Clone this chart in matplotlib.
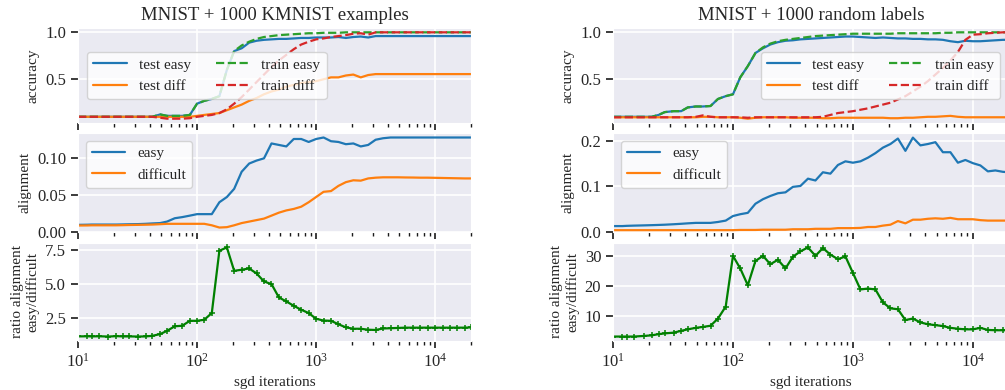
import matplotlib
matplotlib.use('Agg')
import matplotlib.pyplot as plt
import seaborn as sns

sns.set_style('darkgrid')
plt.rcParams['font.family'] = ['Liberation Serif', 'DejaVu Serif']
plt.rcParams['mathtext.fontset'] = 'stix'

# sgd iteration grid (shared by all curves)
iters = [10, 12, 13, 15, 18, 21, 24, 27, 32, 37, 42, 49, 56, 65, 75, 87,
         100, 115, 133, 154, 178, 205, 237, 274, 316, 365, 422, 487, 562, 649,
         750, 866, 1000, 1155, 1334, 1540, 1778, 2054, 2371, 2738, 3162, 3652,
         4217, 4870, 5623, 6494, 7499, 8660, 10000, 11548, 13335, 15399, 17783,
         20000]

# ---- MNIST + 1000 KMNIST examples ----
k_test_easy = [0.10, 0.10, 0.10, 0.10, 0.10, 0.10, 0.10, 0.10, 0.10, 0.10,
               0.10, 0.125, 0.11, 0.11, 0.11, 0.12, 0.24, 0.27, 0.29, 0.32,
               0.60, 0.80, 0.83, 0.89, 0.91, 0.92, 0.925, 0.93, 0.93, 0.935,
               0.94, 0.94, 0.945, 0.945, 0.945, 0.95, 0.94, 0.95, 0.955, 0.945,
               0.96, 0.96, 0.96, 0.96, 0.96, 0.96, 0.96, 0.96, 0.96, 0.96,
               0.96, 0.96, 0.96, 0.96]
k_test_diff = [0.10, 0.10, 0.10, 0.10, 0.10, 0.10, 0.10, 0.10, 0.10, 0.10,
               0.10, 0.10, 0.10, 0.10, 0.10, 0.10, 0.11, 0.12, 0.13, 0.14,
               0.17, 0.20, 0.23, 0.27, 0.30, 0.34, 0.37, 0.39, 0.42, 0.44,
               0.46, 0.47, 0.48, 0.50, 0.52, 0.52, 0.54, 0.55, 0.52, 0.545,
               0.555, 0.555, 0.555, 0.555, 0.555, 0.555, 0.555, 0.555, 0.555,
               0.555, 0.555, 0.555, 0.555, 0.555]
k_train_easy = [0.10, 0.10, 0.10, 0.10, 0.10, 0.10, 0.10, 0.10, 0.10, 0.10,
                0.10, 0.125, 0.11, 0.11, 0.11, 0.12, 0.24, 0.27, 0.29, 0.32,
                0.60, 0.80, 0.86, 0.90, 0.93, 0.95, 0.96, 0.97, 0.975, 0.98,
                0.985, 0.99, 0.99, 0.995, 0.995, 0.995, 1.0, 1.0, 1.0, 1.0,
                1.0, 1.0, 1.0, 1.0, 1.0, 1.0, 1.0, 1.0, 1.0, 1.0,
                1.0, 1.0, 1.0, 1.0]
k_train_diff = [0.10, 0.10, 0.10, 0.10, 0.10, 0.10, 0.10, 0.10, 0.10, 0.10,
                0.10, 0.09, 0.08, 0.08, 0.08, 0.085, 0.10, 0.11, 0.12, 0.14,
                0.18, 0.24, 0.31, 0.39, 0.47, 0.55, 0.63, 0.70, 0.76, 0.82,
                0.87, 0.90, 0.925, 0.935, 0.95, 0.96, 0.97, 0.985, 0.99, 0.975,
                1.0, 1.0, 1.0, 1.0, 1.0, 1.0, 1.0, 1.0, 1.0, 1.0,
                1.0, 1.0, 1.0, 1.0]
k_align_easy = [0.0096, 0.0098, 0.010, 0.010, 0.010, 0.010, 0.0102, 0.0104,
                0.0106, 0.011, 0.0115, 0.012, 0.014, 0.0185, 0.020, 0.022,
                0.024, 0.024, 0.024, 0.040, 0.047, 0.058, 0.081, 0.092, 0.096,
                0.099, 0.119, 0.117, 0.115, 0.125, 0.125, 0.121, 0.125, 0.127,
                0.122, 0.121, 0.118, 0.119, 0.115, 0.117, 0.124, 0.126, 0.127,
                0.127, 0.127, 0.127, 0.127, 0.127, 0.127, 0.127, 0.127, 0.127,
                0.127, 0.127]
k_align_diff = [0.0087, 0.0088, 0.009, 0.009, 0.009, 0.009, 0.0092, 0.0094,
                0.0096, 0.0098, 0.010, 0.0105, 0.011, 0.011, 0.011, 0.011,
                0.011, 0.011, 0.009, 0.006, 0.0065, 0.009, 0.012, 0.014, 0.016,
                0.018, 0.022, 0.026, 0.029, 0.031, 0.034, 0.040, 0.047, 0.054,
                0.055, 0.062, 0.067, 0.0695, 0.069, 0.072, 0.073, 0.0735,
                0.0735, 0.0735, 0.0733, 0.0732, 0.073, 0.073, 0.0728, 0.0726,
                0.0724, 0.0722, 0.072, 0.072]
k_ratio = [1.16, 1.17, 1.16, 1.17, 1.15, 1.18, 1.16, 1.16, 1.15, 1.16,
           1.2, 1.33, 1.57, 1.9, 1.94, 2.3, 2.3, 2.38, 2.87, 7.43,
           7.67, 5.96, 6.04, 6.13, 5.77, 5.18, 4.99, 4.01, 3.72, 3.4,
           3.11, 2.87, 2.45, 2.32, 2.3, 2.05, 1.82, 1.72, 1.72, 1.65,
           1.63, 1.74, 1.76, 1.78, 1.8, 1.8, 1.8, 1.8, 1.8, 1.8,
           1.8, 1.8, 1.8, 1.82]

# ---- MNIST + 1000 random labels ----
r_test_easy = [0.10, 0.10, 0.10, 0.10, 0.10, 0.10, 0.12, 0.15, 0.16, 0.16,
               0.20, 0.21, 0.21, 0.215, 0.29, 0.32, 0.34, 0.52, 0.64, 0.78,
               0.83, 0.87, 0.895, 0.91, 0.915, 0.925, 0.93, 0.935, 0.94, 0.945,
               0.95, 0.955, 0.955, 0.95, 0.945, 0.94, 0.945, 0.94, 0.935, 0.935,
               0.93, 0.93, 0.925, 0.925, 0.92, 0.905, 0.895, 0.91, 0.905, 0.905,
               0.91, 0.915, 0.92, 0.92]
r_test_diff = [0.095, 0.095, 0.095, 0.095, 0.095, 0.095, 0.095, 0.095, 0.095,
               0.095, 0.095, 0.095, 0.10, 0.10, 0.095, 0.095, 0.095, 0.09,
               0.08, 0.09, 0.095, 0.095, 0.095, 0.095, 0.09, 0.09, 0.09, 0.09,
               0.085, 0.085, 0.09, 0.09, 0.09, 0.09, 0.09, 0.09, 0.09, 0.085,
               0.085, 0.09, 0.09, 0.095, 0.10, 0.10, 0.105, 0.11, 0.10, 0.095,
               0.095, 0.095, 0.095, 0.095, 0.095, 0.095]
r_train_easy = [0.10, 0.10, 0.10, 0.10, 0.10, 0.10, 0.12, 0.15, 0.16, 0.16,
                0.20, 0.21, 0.21, 0.215, 0.29, 0.32, 0.34, 0.52, 0.64, 0.78,
                0.84, 0.88, 0.905, 0.92, 0.93, 0.94, 0.95, 0.96, 0.965, 0.97,
                0.975, 0.98, 0.985, 0.985, 0.985, 0.985, 0.985, 0.985, 0.99,
                0.99, 0.99, 0.99, 0.99, 0.99, 0.995, 0.995, 1.0, 1.0, 1.0, 1.0,
                1.0, 1.0, 1.0, 1.0]
r_train_diff = [0.095, 0.095, 0.095, 0.095, 0.095, 0.095, 0.095, 0.095, 0.095,
                0.095, 0.095, 0.10, 0.115, 0.10, 0.095, 0.095, 0.095, 0.095,
                0.09, 0.095, 0.095, 0.095, 0.095, 0.095, 0.095, 0.095, 0.095,
                0.095, 0.10, 0.12, 0.14, 0.15, 0.16, 0.175, 0.19, 0.21, 0.23,
                0.25, 0.285, 0.32, 0.37, 0.42, 0.48, 0.55, 0.62, 0.70, 0.79,
                0.92, 0.975, 0.98, 0.99, 0.995, 1.0, 1.0]
r_align_easy = [0.013, 0.013, 0.0135, 0.014, 0.0145, 0.015, 0.0155, 0.016,
                0.017, 0.018, 0.019, 0.020, 0.020, 0.020, 0.022, 0.025, 0.035,
                0.039, 0.042, 0.062, 0.072, 0.079, 0.085, 0.087, 0.099, 0.101,
                0.117, 0.113, 0.131, 0.128, 0.147, 0.155, 0.152, 0.155, 0.163,
                0.173, 0.185, 0.193, 0.205, 0.178, 0.207, 0.19, 0.193, 0.197,
                0.175, 0.175, 0.152, 0.158, 0.151, 0.146, 0.133, 0.135, 0.132,
                0.131]
r_align_diff = [0.004, 0.004, 0.004, 0.004, 0.004, 0.004, 0.004, 0.004, 0.004,
                0.004, 0.004, 0.004, 0.004, 0.004, 0.004, 0.004, 0.004, 0.0045,
                0.0045, 0.0045, 0.005, 0.005, 0.005, 0.005, 0.006, 0.006, 0.006,
                0.007, 0.007, 0.007, 0.0085, 0.0085, 0.0085, 0.009, 0.011,
                0.011, 0.014, 0.016, 0.024, 0.019, 0.027, 0.027, 0.029, 0.030,
                0.029, 0.031, 0.028, 0.028, 0.028, 0.026, 0.025, 0.025, 0.025,
                0.025]
r_ratio = [3.3, 3.3, 3.3, 3.3, 3.5, 3.7, 4.1, 4.35, 4.6, 5.2,
           5.7, 6.2, 6.5, 6.9, 9.3, 13.3, 30.2, 26.0, 20.4, 28.5,
           30.2, 27.4, 28.9, 26.0, 29.9, 31.7, 33.0, 30.2, 32.8, 30.6,
           29.1, 30.0, 24.5, 19.0, 19.3, 19.0, 14.7, 12.7, 12.4, 8.8,
           9.3, 8.0, 7.4, 7.1, 6.8, 6.2, 5.9, 5.7, 5.7, 6.2,
           5.5, 5.4, 5.4, 5.4]

panels = [
    dict(title='MNIST + 1000 KMNIST examples', left=78,
         acc=(k_test_easy, k_test_diff, k_train_easy, k_train_diff),
         align=(k_align_easy, k_align_diff), ratio=k_ratio,
         acc_loc='center left', acc_anchor=(0.0, 0.5),
         align_ticks=[0.0, 0.05, 0.10], align_fmt='%.2f',
         ratio_ticks=[2.5, 5.0, 7.5], ratio_fmt='%.1f'),
    dict(title='MNIST + 1000 random labels', left=613,
         acc=(r_test_easy, r_test_diff, r_train_easy, r_train_diff),
         align=(r_align_easy, r_align_diff), ratio=r_ratio,
         acc_loc='center right', acc_anchor=(1.0, 0.5),
         align_ticks=[0.0, 0.1, 0.2], align_fmt='%.1f',
         ratio_ticks=[10, 20, 30], ratio_fmt='%d'),
]

W, H = 1005, 390
fig = plt.figure(figsize=(W / 100, H / 100), dpi=100)
rows = [(28, 123), (133, 232), (243, 341)]
width_px = [393, 396]

c_blue, c_orange, c_green, c_red = '#1f77b4', '#ff7f0e', '#2ca02c', '#d62728'

for p, wpx in zip(panels, width_px):
    axes = []
    for top, bot in rows:
        ax = fig.add_axes([p['left'] / W, (H - bot) / H, wpx / W, (bot - top) / H])
        ax.set_xscale('log')
        ax.set_xlim(10, 2e4)
        ax.tick_params(which='both', bottom=True, left=True, color='0.1',
                       labelsize=12, direction='out')
        ax.tick_params(which='major', length=5, width=1.2)
        ax.tick_params(which='minor', length=3, width=1)
        ax.grid(True, which='major', color='white', lw=1.2)
        ax.grid(False, which='minor')
        axes.append(ax)
    a1, a2, a3 = axes

    te, td, tre, trd = p['acc']
    a1.plot(iters, te, color=c_blue, lw=1.6, label='test easy')
    a1.plot(iters, td, color=c_orange, lw=1.6, label='test diff')
    a1.plot(iters, tre, color=c_green, lw=1.6, ls='--', label='train easy')
    a1.plot(iters, trd, color=c_red, lw=1.6, ls='--', label='train diff')
    a1.set_yticks([0.5, 1.0])
    a1.set_ylabel('accuracy', fontsize=11)
    a1.set_title(p['title'], fontsize=13.5)
    a1.tick_params(labelbottom=False)
    a1.legend(ncol=2, loc=p['acc_loc'], bbox_to_anchor=p['acc_anchor'],
              fontsize=11, facecolor='white', framealpha=0.8,
              edgecolor='0.8', handlelength=2.2, columnspacing=1.6,
              borderaxespad=0.6)

    ae, ad = p['align']
    a2.plot(iters, ae, color=c_blue, lw=1.6, label='easy')
    a2.plot(iters, ad, color=c_orange, lw=1.6, label='difficult')
    a2.set_ylim(bottom=0)
    a2.set_yticks(p['align_ticks'])
    a2.yaxis.set_major_formatter(matplotlib.ticker.FormatStrFormatter(p['align_fmt']))
    a2.set_ylabel('alignment', fontsize=11)
    a2.tick_params(labelbottom=False)
    a2.legend(loc='upper left', fontsize=11, facecolor='white',
              framealpha=0.8, edgecolor='0.8', handlelength=2.2)

    a3.plot(iters, p['ratio'], color='green', lw=1.6, marker='+', ms=4,
            mew=1.1)
    a3.set_yticks(p['ratio_ticks'])
    a3.yaxis.set_major_formatter(matplotlib.ticker.FormatStrFormatter(p['ratio_fmt']))
    a3.set_ylabel('ratio alignment\neasy/difficult', fontsize=11)
    a3.set_xlabel('sgd iterations', fontsize=11)
    for ax in axes:
        ax.set_xlim(10, 2e4)

fig.savefig('out.png', dpi=100)
